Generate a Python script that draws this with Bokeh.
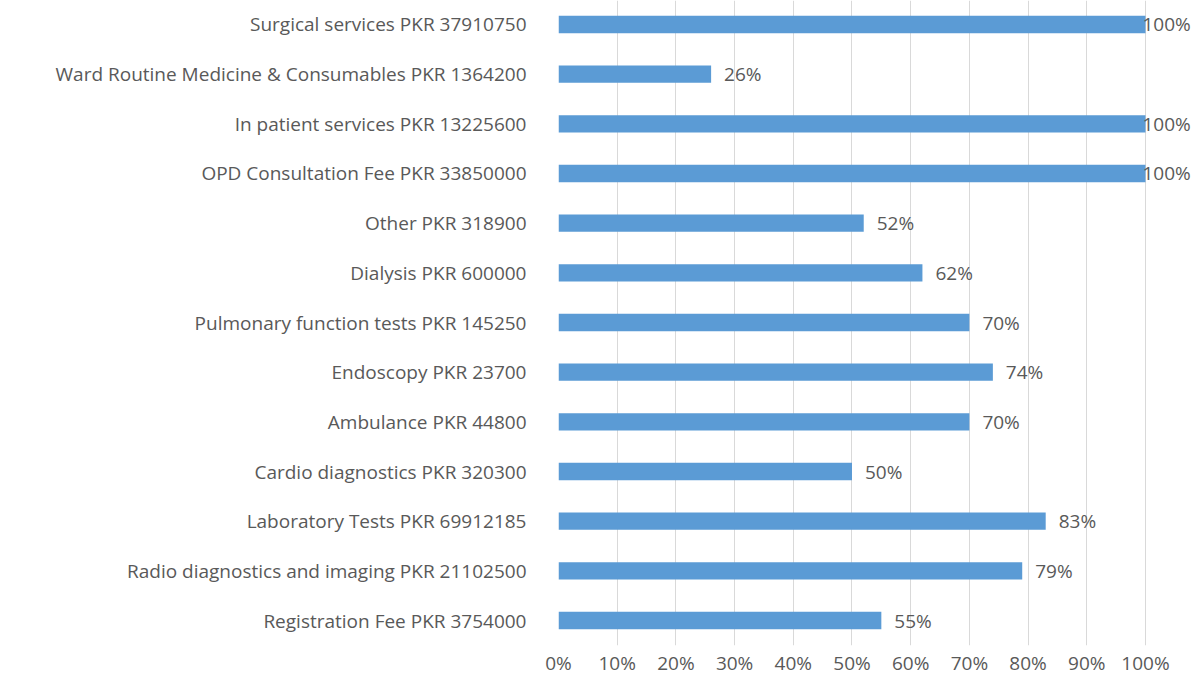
from bokeh.plotting import figure
from bokeh.models import Range1d, FixedTicker, NumeralTickFormatter, ColumnDataSource, LabelSet
from bokeh.core.properties import value
from bokeh.embed import file_html
from bokeh.resources import INLINE

categories = [
    "Registration Fee PKR 3754000",
    "Radio diagnostics and imaging PKR 21102500",
    "Laboratory Tests PKR 69912185",
    "Cardio diagnostics PKR 320300",
    "Ambulance PKR 44800",
    "Endoscopy PKR 23700",
    "Pulmonary function tests PKR 145250",
    "Dialysis PKR 600000",
    "Other PKR 318900",
    "OPD Consultation Fee PKR 33850000",
    "In patient services PKR 13225600",
    "Ward Routine Medicine & Consumables PKR 1364200",
    "Surgical services PKR 37910750",
]
values = [0.55, 0.79, 0.83, 0.50, 0.70, 0.74, 0.70, 0.62, 0.52, 1.00, 1.00, 0.26, 1.00]
x_ticks = [0, 0.1, 0.2, 0.3, 0.4, 0.5, 0.6, 0.7, 0.8, 0.9, 1.0]

FONT = "Open Sans"
TXT = "#595959"
FS = "19px"

ypos = list(range(len(categories)))
labels = [f"{round(v*100)}%" for v in values]
offsets = [-3 if v >= 0.99 else 13 for v in values]
src = ColumnDataSource(dict(y=ypos, v=values, lab=labels, off=offsets))

p = figure(frame_width=635, frame_height=645, output_backend="svg", toolbar_location=None,
           x_range=Range1d(0, 1.0818), y_range=Range1d(-0.503, 12.483),
           min_border_left=558, min_border_right=0, min_border_top=0, min_border_bottom=0)
p.hbar(y="y", right="v", left=0, height=0.35, source=src, color="#5B9BD5", line_color=None)

ls = LabelSet(x="v", y="y", text="lab", x_offset="off", source=src,
              text_font=value(FONT), text_font_size=FS, text_color=TXT,
              text_baseline="middle", text_align="left")
p.add_layout(ls)

p.xaxis.ticker = FixedTicker(ticks=x_ticks)
p.xaxis.formatter = NumeralTickFormatter(format="0%")
p.yaxis.ticker = FixedTicker(ticks=ypos)
p.yaxis.major_label_overrides = {i: c for i, c in enumerate(categories)}
for ax in (p.xaxis, p.yaxis):
    ax.axis_line_color = None
    ax.major_tick_line_color = None
    ax.minor_tick_line_color = None
    ax.major_label_text_font = FONT
    ax.major_label_text_font_size = FS
    ax.major_label_text_color = TXT
p.yaxis.major_label_standoff = 26
p.xaxis.major_label_standoff = 4
p.xaxis.major_tick_out = 0
p.ygrid.grid_line_color = None
p.xgrid.grid_line_color = "#D9D9D9"
p.outline_line_color = None

open("out.html", "w").write(file_html(p, INLINE))
